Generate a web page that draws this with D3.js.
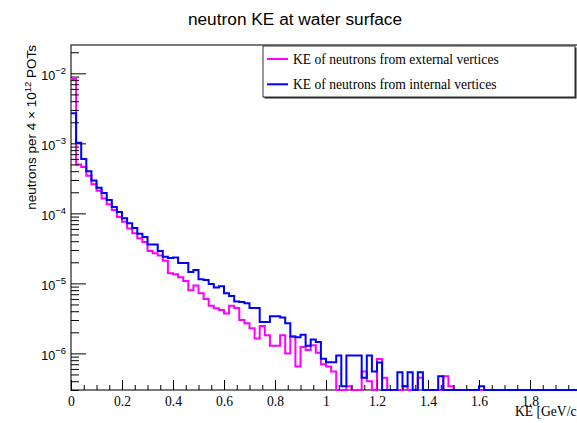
<!DOCTYPE html>
<html>
<head>
<meta charset="utf-8">
<script src="https://cdn.jsdelivr.net/npm/d3@7/dist/d3.min.js"></script>
<style>
  body { margin: 0; background: #fff; }
  svg { display: block; }
</style>
</head>
<body>
<div id="graph-container"></div>
<script>

/////////////////////////////////////////////////////////////////////////////
                      ///////    Data    ///////
/////////////////////////////////////////////////////////////////////////////

// 100 bins of 0.02 GeV between 0 and 2 GeV
var bin_width = 0.02;

var ke_external = [
  8.3e-3, 5.0e-4, 4.6e-4, 3.45e-4, 2.6e-4, 2.1e-4, 1.63e-4, 1.35e-4, 1.12e-4, 8.9e-5,
  7.6e-5, 6.1e-5, 5.2e-5, 4.4e-5, 3.9e-5, 2.9e-5, 2.7e-5, 2.5e-5, 2.1e-5, 1.39e-5,
  1.35e-5, 1.22e-5, 1.08e-5, 8.0e-6, 9.3e-6, 7.2e-6, 6.0e-6, 4.8e-6, 4.4e-6, 4.15e-6,
  3.7e-6, 4.8e-6, 4.46e-6, 3.0e-6, 2.7e-6, 2.28e-6, 1.63e-6, 2.46e-6, 1.82e-6, 1.29e-6,
  1.29e-6, 1.82e-6, 1.0e-6, 1.74e-6, 6.5e-7, 1.23e-6, 1.12e-6, 1.31e-6, 1.02e-6, 7.0e-7,
  6.5e-7, 5.5e-7, 0, 0, 3.4e-7, 0, 0, 5.5e-7, 4.0e-7, 0,
  8.3e-7, 4.5e-7, 0, 0, 0, 3.4e-7, 0, 0, 4.5e-7, 0,
  0, 0, 0, 4.7e-7, 3.4e-7, 0, 0, 0, 0, 0,
  0, 0, 0, 0, 0, 0, 0, 0, 0, 0,
  0, 0, 0, 0, 0, 0, 0, 0, 0, 0
];

var ke_internal = [
  2.7e-3, 1.02e-3, 6.0e-4, 4.0e-4, 2.95e-4, 2.33e-4, 1.95e-4, 1.55e-4, 1.23e-4, 1.05e-4,
  8.5e-5, 7.2e-5, 6.2e-5, 5.1e-5, 4.6e-5, 3.6e-5, 3.6e-5, 2.9e-5, 2.4e-5, 2.3e-5,
  2.35e-5, 1.95e-5, 1.95e-5, 1.45e-5, 1.55e-5, 1.15e-5, 1.12e-5, 9.8e-6, 8.7e-6, 9.1e-6,
  7.2e-6, 6.6e-6, 5.5e-6, 5.4e-6, 5.2e-6, 4.46e-6, 4.46e-6, 2.8e-6, 2.8e-6, 3.4e-6,
  3.4e-6, 3.25e-6, 2.7e-6, 1.74e-6, 1.7e-6, 1.85e-6, 1.29e-6, 1.58e-6, 1.45e-6, 8.4e-7,
  7.5e-7, 7.5e-7, 9.3e-7, 3.4e-7, 9.3e-7, 9.3e-7, 9.3e-7, 4.5e-7, 9.3e-7, 5.5e-7,
  7.4e-7, 0, 0, 0, 5.4e-7, 3.4e-7, 5.4e-7, 0, 5.4e-7, 0,
  0, 0, 4.7e-7, 0, 0, 0, 0, 0, 0, 0,
  3.4e-7, 0, 0, 0, 0, 0, 0, 0, 0, 0,
  0, 0, 0, 0, 0, 0, 0, 0, 0, 0
];

var series_names = ['KE of neutrons from external vertices', 'KE of neutrons from internal vertices'];
var series_colors = ['#ff00ff', '#0000ff'];

var x_tick_values = [0, 0.2, 0.4, 0.6, 0.8, 1, 1.2, 1.4, 1.6, 1.8, 2];
var y_decades = [-6, -5, -4, -3, -2];

var title_text = 'neutron KE at water surface';
var x_title = 'KE [GeV/c]';

/////////////////////////////////////////////////////////////////////////////
                      ///////    Set Up Chart    ///////
/////////////////////////////////////////////////////////////////////////////

var W = 577, H = 423;
var frame = {left: 71, right: 581, top: 45, bottom: 390};
var y_min = 3.0e-7, y_max = 0.0254;

var sans = '"Liberation Sans", Arial, Helvetica, sans-serif';
var serif = '"Liberation Serif", "Times New Roman", Times, serif';

var svg = d3.select('#graph-container').append('svg')
            .attr('width', W).attr('height', H)
            .attr('xmlns', 'http://www.w3.org/2000/svg');

svg.append('rect').attr('width', W).attr('height', H).attr('fill', '#fff');

var x = d3.scaleLinear().domain([0, 2]).range([frame.left, frame.right]);
var y = d3.scaleLog().domain([y_min, y_max]).range([frame.bottom, frame.top]);

// title
svg.append('text')
   .attr('x', 295).attr('y', 25)
   .attr('text-anchor', 'middle')
   .attr('font-family', sans).attr('font-size', 17.3)
   .text(title_text);

// frame
svg.append('rect')
   .attr('x', frame.left).attr('y', frame.top)
   .attr('width', frame.right - frame.left).attr('height', frame.bottom - frame.top)
   .attr('fill', 'none').attr('stroke', '#333').attr('stroke-width', 1.3);

/////////////////////////////////////////////////////////////////////////////
                      ///////    Histograms    ///////
/////////////////////////////////////////////////////////////////////////////

svg.append('clipPath').attr('id', 'plot-clip')
   .append('rect')
   .attr('x', frame.left).attr('y', frame.top - 1)
   .attr('width', frame.right - frame.left + 2).attr('height', frame.bottom - frame.top + 3);

let clamp_y = (v) => y(Math.min(Math.max(v, y_min), y_max));

function step_points(values) {
    var pts = [];
    values.forEach((v, i) => {
        pts.push([x(i * bin_width), clamp_y(v)]);
        pts.push([x((i + 1) * bin_width), clamp_y(v)]);
    });
    return pts;
}

var line = d3.line();
var hist_g = svg.append('g').attr('clip-path', 'url(#plot-clip)');

[ke_external, ke_internal].forEach((values, k) => {
    hist_g.append('path')
          .attr('d', line(step_points(values)))
          .attr('fill', 'none')
          .attr('stroke', series_colors[k])
          .attr('stroke-width', 2)
          .attr('stroke-linejoin', 'miter');
});

/////////////////////////////////////////////////////////////////////////////
                      ///////    Axes    ///////
/////////////////////////////////////////////////////////////////////////////

// x axis: major + minor ticks pointing into the frame
var x_minor = d3.range(0, 2.0001, 0.05).filter(v => Math.abs(v / 0.2 - Math.round(v / 0.2)) > 1e-6);

var x_axis = svg.append('g').attr('transform', `translate(0,${frame.bottom})`)
   .call(d3.axisBottom(x).tickValues(x_tick_values).tickSize(-10).tickPadding(6.5)
           .tickFormat(d3.format('~g')));
x_axis.select('.domain').remove();
x_axis.selectAll('text').attr('font-family', serif).attr('font-size', 13.6).attr('fill', '#000');

var x_axis_minor = svg.append('g').attr('transform', `translate(0,${frame.bottom})`)
   .call(d3.axisBottom(x).tickValues(x_minor).tickSize(-5).tickFormat(''));
x_axis_minor.select('.domain').remove();

svg.append('text')
   .attr('x', frame.right).attr('y', 416)
   .attr('text-anchor', 'end')
   .attr('font-family', serif).attr('font-size', 13.6)
   .text(x_title);

// y axis: decades + minor ticks
var y_major = y_decades.map(p => Math.pow(10, p));
var y_minor = [];
for (var p = -7; p <= -2; p++) {
    for (var m = 2; m <= 9; m++) {
        var v = m * Math.pow(10, p);
        if (v >= y_min && v <= y_max) y_minor.push(v);
    }
}

var y_axis = svg.append('g').attr('transform', `translate(${frame.left},0)`)
   .call(d3.axisLeft(y).tickValues(y_major).tickSize(-15).tickPadding(5).tickFormat(''));
y_axis.select('.domain').remove();

var y_axis_minor = svg.append('g').attr('transform', `translate(${frame.left},0)`)
   .call(d3.axisLeft(y).tickValues(y_minor).tickSize(-8).tickFormat(''));
y_axis_minor.select('.domain').remove();

// tick labels 10^n with superscript
y_decades.forEach(p => {
    var t = svg.append('text')
               .attr('x', frame.left - 5).attr('y', y(Math.pow(10, p)) + 6.3)
               .attr('text-anchor', 'end')
               .attr('font-family', sans).attr('font-size', 12.5);
    t.append('tspan').text('10');
    t.append('tspan').attr('dy', -5.5).attr('font-size', 9.5).text('\u2212' + Math.abs(p));
});

// y title
var yt = svg.append('text')
   .attr('transform', `translate(36,${frame.top}) rotate(-90)`)
   .attr('text-anchor', 'end')
   .attr('font-family', sans).attr('font-size', 13.5);
yt.append('tspan').text('neutrons per 4 \u00d7 10');
yt.append('tspan').attr('dy', -5.5).attr('font-size', 9.5).text('12');
yt.append('tspan').attr('dy', 5.5).text(' POTs');

/////////////////////////////////////////////////////////////////////////////
                      ///////    Legend    ///////
/////////////////////////////////////////////////////////////////////////////

var legend = {x: 263, y: 46, w: 312, h: 51};
svg.append('rect')
   .attr('x', legend.x + 1.5).attr('y', legend.y + 1.5)
   .attr('width', legend.w).attr('height', legend.h)
   .attr('fill', '#222');
svg.append('rect')
   .attr('x', legend.x).attr('y', legend.y)
   .attr('width', legend.w).attr('height', legend.h)
   .attr('fill', '#fff').attr('stroke', '#333').attr('stroke-width', 1);

series_names.forEach((name, k) => {
    var ly = 59 + k * 25.3;
    svg.append('line')
       .attr('x1', 267).attr('x2', 288).attr('y1', ly).attr('y2', ly)
       .attr('stroke', series_colors[k]).attr('stroke-width', 2);
    svg.append('text')
       .attr('x', 293).attr('y', ly + 5)
       .attr('font-family', serif).attr('font-size', 13.6)
       .text(name);
});

</script>
</body>
</html>
